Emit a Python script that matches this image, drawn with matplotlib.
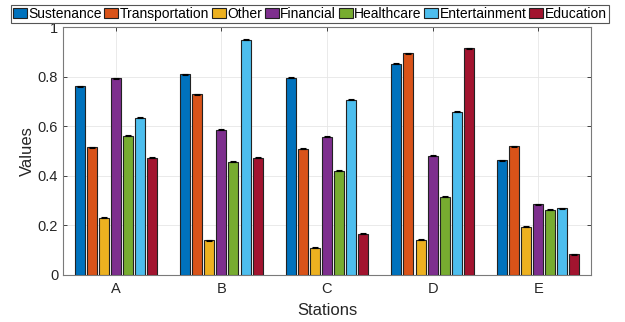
import numpy as np
import matplotlib
matplotlib.use("Agg")
import matplotlib.pyplot as plt
from matplotlib.ticker import FormatStrFormatter

plt.rcParams['font.family'] = ['Liberation Sans', 'DejaVu Sans']

stations = ['A', 'B', 'C', 'D', 'E']
categories = ['Sustenance', 'Transportation', 'Other', 'Financial',
              'Healthcare', 'Entertainment', 'Education']

sustenance = [0.762, 0.810, 0.796, 0.852, 0.462]
transportation = [0.515, 0.729, 0.509, 0.894, 0.520]
other = [0.231, 0.141, 0.109, 0.142, 0.195]
financial = [0.793, 0.585, 0.558, 0.480, 0.286]
healthcare = [0.562, 0.456, 0.421, 0.316, 0.263]
entertainment = [0.634, 0.949, 0.706, 0.659, 0.269]
education = [0.472, 0.472, 0.167, 0.915, 0.083]

series = [sustenance, transportation, other, financial,
          healthcare, entertainment, education]
colors = ['#0072BD', '#D95319', '#EDB120', '#7E2F8E',
          '#77AC30', '#4DBEEE', '#A2142F']

fig = plt.figure(figsize=(6.25, 3.22), dpi=100)
ax = fig.add_axes([0.1008, 0.146, 0.8448, 0.770])

x = np.arange(1, len(stations) + 1)
step = 0.8 / len(series)
width = step * 0.83
handles = []
for i, (vals, c) in enumerate(zip(series, colors)):
    pos = x + (i - (len(series) - 1) / 2) * step
    h = ax.bar(pos, vals, width, color=c, edgecolor='#222222', linewidth=0.8,
               zorder=3, label=categories[i])
    ax.errorbar(pos, vals, yerr=0.002, fmt='none', ecolor='black',
                elinewidth=0.8, capsize=2.5, capthick=0.8, zorder=4)
    handles.append(h)

ax.set_xlim(0.5, 5.5)
ax.set_ylim(0, 1)
ax.set_xticks(x)
ax.set_xticklabels(stations)
ax.set_yticks(np.arange(0, 1.01, 0.2))
ax.yaxis.set_major_formatter(FormatStrFormatter('%g'))
ax.grid(True, color='#e6e6e6', linewidth=0.6, zorder=0)
ax.tick_params(direction='in', top=True, right=True, length=3,
               labelsize=10.5, colors='#262626', width=0.6)
ax.tick_params(axis='x', pad=5)
for s in ax.spines.values():
    s.set_color('#7a7a7a')
    s.set_linewidth(0.8)
ax.set_xlabel('Stations', fontsize=12, color='#262626', labelpad=5)
ax.set_ylabel('Values', fontsize=12, color='#262626', labelpad=2)

leg = fig.legend(handles=handles, loc='center', ncol=7,
                 bbox_to_anchor=(0.4955, 1 - 14 / 322), fontsize=10,
                 handlelength=1.0, handleheight=0.8, handletextpad=0.1,
                 columnspacing=0.2, borderpad=0.15, borderaxespad=0,
                 fancybox=False, framealpha=1, edgecolor='#555555')
leg.get_frame().set_linewidth(0.8)

fig.savefig('out.png', dpi=100)
